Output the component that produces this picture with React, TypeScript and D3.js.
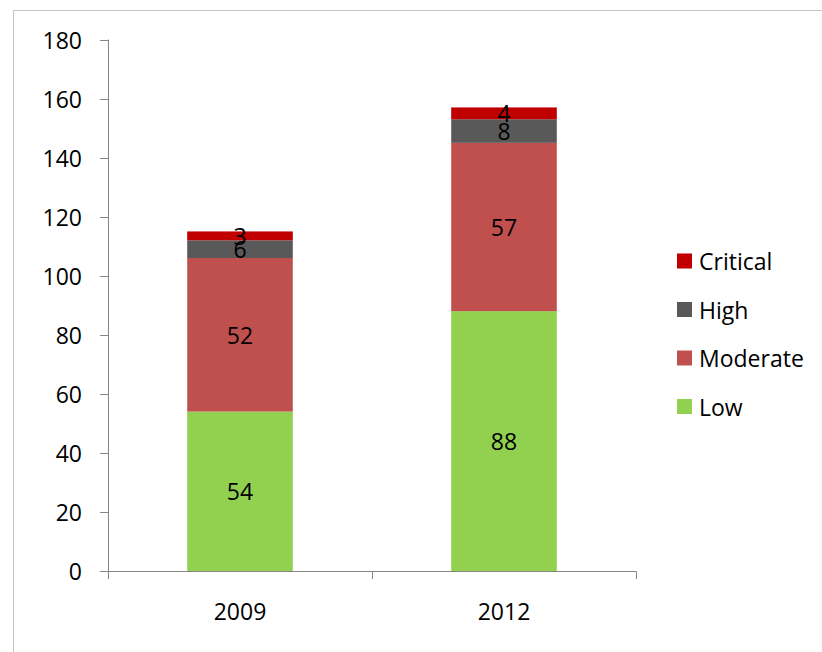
import React from "react";
import * as d3 from "d3";

const categories = ["2009", "2012"];
const seriesNames = ["Low", "Moderate", "High", "Critical"];
const low = [54, 88];
const moderate = [52, 57];
const high = [6, 8];
const critical = [3, 4];
const yTicks = [0, 20, 40, 60, 80, 100, 120, 140, 160, 180];
const colors = ["#92D050", "#C0504D", "#595959", "#C00000"];
const legendOrder = ["Critical", "High", "Moderate", "Low"];

const W = 822, H = 652;
const FONT = "'Open Sans', sans-serif";
const FS = 23;

export default function App() {
  const x = d3.scaleBand<string>().domain(categories).range([108, 636]).paddingInner(0).paddingOuter(0);
  const y = d3.scaleLinear().domain([0, 180]).range([571, 39.5]);
  const rows = categories.map((c, i) => ({ cat: c, Low: low[i], Moderate: moderate[i], High: high[i], Critical: critical[i] }));
  const stacked = d3.stack<any>().keys(seriesNames)(rows);
  const bw = x.bandwidth() * 0.4;
  const colorOf = (k: string) => colors[seriesNames.indexOf(k)];
  const axisColor = "#868686";

  return (
    <svg width={W} height={H} style={{ position: "absolute", left: 0, top: 0, background: "#fff" }} fontFamily={FONT}>
      <rect x={13.5} y={10.5} width={W + 10} height={H + 10} fill="#fff" stroke="#c4c4c4" strokeWidth={1} />
      {stacked.map((s) => (
        <g key={s.key}>
          {s.map((d, i) => {
            const cx = (x(categories[i]) as number) + x.bandwidth() / 2;
            const y0 = y(d[0]), y1 = y(d[1]);
            return (
              <g key={i}>
                <rect x={cx - bw / 2} y={y1} width={bw} height={y0 - y1} fill={colorOf(s.key)} />
              </g>
            );
          })}
        </g>
      ))}
      {stacked.map((s) => (
        <g key={s.key + "l"}>
          {s.map((d, i) => {
            const cx = (x(categories[i]) as number) + x.bandwidth() / 2;
            const val = d[1] - d[0];
            return (
              <text key={i} x={cx} y={(y(d[0]) + y(d[1])) / 2} textAnchor="middle" dominantBaseline="central" fontSize={FS} fill="#000">
                {val}
              </text>
            );
          })}
        </g>
      ))}
      {/* y axis */}
      <line x1={108.5} x2={108.5} y1={y(180)} y2={y(0)} stroke={axisColor} />
      {yTicks.map((t) => (
        <g key={t}>
          <line x1={100} x2={108.5} y1={Math.round(y(t)) + 0.5} y2={Math.round(y(t)) + 0.5} stroke={axisColor} />
          <text x={82} y={y(t)} textAnchor="end" dominantBaseline="central" fontSize={FS} fill="#000">{t}</text>
        </g>
      ))}
      {/* x axis */}
      <line x1={108} x2={636.5} y1={571.5} y2={571.5} stroke={axisColor} />
      {[...categories.map((c) => x(c) as number), 636].map((v, i) => (
        <line key={i} x1={Math.round(v) + 0.5} x2={Math.round(v) + 0.5} y1={571.5} y2={579} stroke={axisColor} />
      ))}
      {categories.map((c) => (
        <text key={c} x={(x(c) as number) + x.bandwidth() / 2} y={611} textAnchor="middle" dominantBaseline="central" fontSize={FS} fill="#000">{c}</text>
      ))}
      {/* legend */}
      {legendOrder.map((k, i) => {
        const cy = 261 + i * 48.5;
        return (
          <g key={k}>
            <rect x={677} y={cy - 7.5} width={15} height={15} fill={colorOf(k)} />
            <text x={699} y={cy} dominantBaseline="central" fontSize={FS} fill="#000">{k}</text>
          </g>
        );
      })}
    </svg>
  );
}
